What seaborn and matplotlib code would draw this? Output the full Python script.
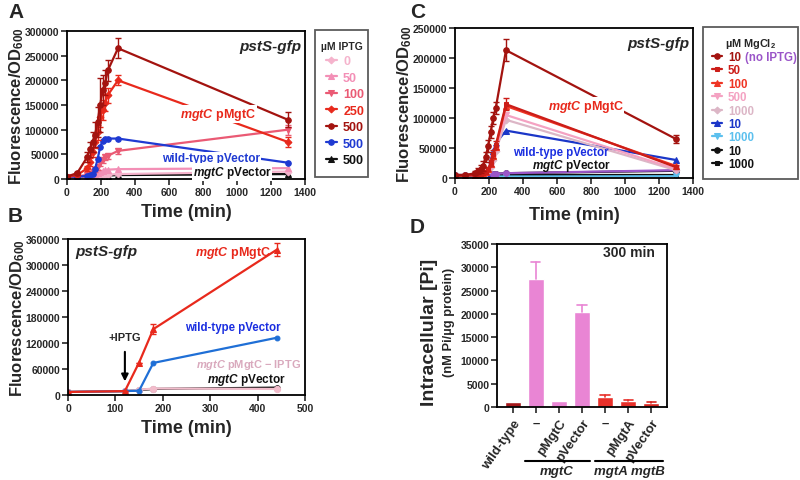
import numpy as np
import matplotlib
matplotlib.use("Agg")
import matplotlib.pyplot as plt
import seaborn as sns
from matplotlib.lines import Line2D

sns.set_style("ticks")
plt.rcParams['font.family'] = ['Liberation Sans', 'DejaVu Sans']
plt.rcParams['font.weight'] = 'bold'
plt.rcParams['mathtext.fontset'] = 'custom'
plt.rcParams['mathtext.rm'] = 'Liberation Sans:bold'
plt.rcParams['mathtext.it'] = 'Liberation Sans:italic:bold'
plt.rcParams['mathtext.bf'] = 'Liberation Sans:bold'

# ---- Panel A data (uM IPTG) ----
tA = [0, 60, 120, 135, 150, 165, 180, 195, 210, 225, 240, 300, 1300]
a_0 = [5000, 5000, 5000, 6000, 6000, 7000, 7000, 8000, 8000, 9000, 9000, 10000, 15000]
a_50 = [5000, 5000, 6000, 7000, 8000, 10000, 12000, 14000, 16000, 18000, 19000, 20000, 22000]
a_100 = [5000, 6000, 8000, 10000, 14000, 18000, 24000, 32000, 38000, 44000, 47000, 57000, 100000]
a_250 = [5000, 8000, 22000, 35000, 55000, 75000, 95000, 125000, 140000, 155000, 170000, 200000, 75000]
a_500 = [5000, 12000, 45000, 60000, 75000, 90000, 115000, 150000, 180000, 195000, 220000, 265000, 120000]
a_wt = [5000, 5000, 6000, 8000, 10000, 20000, 40000, 65000, 78000, 81000, 82000, 82000, 33000]
a_vec = [4000, 4000, 4000, 4000, 5000, 5000, 5000, 6000, 6000, 7000, 7000, 8000, 10000]
a_err_500 = [1000, 3000, 10000, 15000, 20000, 25000, 30000, 55000, 30000, 25000, 22000, 20000, 15000]
a_err_250 = [500, 2000, 5000, 8000, 10000, 12000, 15000, 20000, 20000, 18000, 15000, 10000, 10000]
a_err_100 = [500, 1000, 2000, 2000, 3000, 4000, 5000, 6000, 6000, 6000, 6000, 6000, 10000]
a_labels = ['0', '50', '100', '250', '500', '500', '500']

# ---- Panel B data ----
tB = [0, 120, 150, 180, 440]
b_pmgtc = [7000, 9000, 75000, 152000, 335000]
b_wt = [7000, 9000, 10000, 74000, 132000]
b_noiptg = [7000, 9000, 12000, 15000, 14000]
b_vec = [7000, 9000, 11000, 14000, 17000]
b_err_pmgtc = [0, 0, 0, 12000, 15000]

# ---- Panel C data (uM MgCl2) ----
tC = [0, 60, 120, 135, 150, 165, 180, 195, 210, 225, 240, 300, 1300]
c_10 = [5000, 5000, 8000, 12000, 15000, 20000, 35000, 53000, 77000, 100000, 117000, 213000, 65000]
c_50 = [4000, 4000, 5000, 6000, 7000, 8000, 10000, 15000, 25000, 40000, 55000, 123000, 18000]
c_100 = [4000, 4000, 5000, 6000, 7000, 8000, 10000, 15000, 23000, 37000, 52000, 120000, 20000]
c_500 = [4000, 4000, 5000, 6000, 7000, 8000, 9000, 13000, 20000, 33000, 48000, 105000, 15000]
c_1000 = [4000, 4000, 5000, 5000, 6000, 7000, 8000, 12000, 18000, 30000, 45000, 97000, 13000]
c_wt10 = [3000, 3000, 3000, 3000, 3000, 3000, 3500, 4000, 30000, 45000, 58000, 79000, 30000]
c_wt1000 = [2500, 2500, 2500, 2500, 2500, 2500, 2500, 2500, 2500, 2500, 2500, 2500, 3000]
c_vec10 = [5000, 5000, 5000, 5000, 5000, 5000, 6000, 6000, 6000, 6000, 7000, 8000, 12000]
c_vec1000 = [4000, 4000, 4000, 4000, 4000, 4000, 4000, 4000, 4000, 4500, 4500, 5000, 5000]
c_noiptg = [5000, 5000, 5000, 5000, 5000, 6000, 6000, 6000, 6000, 7000, 7000, 8000, 13000]
c_err_10 = [1000, 1000, 3000, 5000, 6000, 8000, 8000, 10000, 10000, 10000, 10000, 18000, 7000]
c_err_50 = [500, 500, 1000, 1000, 2000, 2000, 3000, 4000, 5000, 6000, 6000, 10000, 3000]
c_labels = ['10', '50', '100', '500', '1000', '10', '1000', '10', '1000']

# ---- Panel D data ----
d_ids = ['wt', 'c0', 'cC', 'cV', 'ab0', 'abA', 'abV']
d_ticks = ['wild-type', '\u2013', 'pMgtC', 'pVector', '\u2013', 'pMgtA', 'pVector']
d_vals = [1100, 27500, 1200, 20400, 2200, 1300, 800]
d_err = [0, 3600, 0, 1500, 450, 250, 200]

W, H = 800, 481
fig = plt.figure(figsize=(8, 4.81), dpi=100)


def px_axes(l, t, r, b):
    return fig.add_axes([l / W, 1 - b / H, (r - l) / W, (b - t) / H])


def style(ax):
    for s in ax.spines.values():
        s.set_linewidth(1.3)
        s.set_color('black')
    ax.tick_params(direction='out', length=4, width=1.2, labelsize=7.5, pad=1.5)
    for lab in ax.get_xticklabels() + ax.get_yticklabels():
        lab.set_fontweight('bold')


def series(ax, t, v, color, marker, label, err=None, ms=4):
    sns.lineplot(x=t, y=v, ax=ax, color=color, marker=marker, markersize=ms,
                 markeredgecolor=color, linewidth=1.6, label=label, errorbar=None)
    if err is not None:
        ax.errorbar(t, v, yerr=err, fmt='none', ecolor=color, elinewidth=1, capsize=2.5)


def label_text(ax, x, y, s, color, size=8.5):
    ax.text(x, y, s, color=color, fontsize=size, fontweight='bold', va='center',
            bbox=dict(facecolor='white', edgecolor='none', pad=0.5), zorder=5)


def box_legend(ax, handles, labels, title, l, t, w, **kw):
    leg = ax.legend(handles, labels, title=title, loc='upper left',
                    bbox_to_anchor=(l / W, 1 - t / H - 0.01, w / W, 0.01), mode='expand',
                    bbox_transform=fig.transFigure, fancybox=False, edgecolor='#333333',
                    handlelength=0.9, handletextpad=0.5, borderaxespad=0, **kw)
    leg.get_frame().set_linewidth(1.3)
    return leg


# ================= Panel A =================
axA = px_axes(67, 32, 305, 180)
colA = ['#f5b3cc', '#f38fb6', '#ea5a74', '#e8291c', '#a3130f', '#1f3ad2', '#111111']
series(axA, tA, a_vec, colA[6], '^', a_labels[6])
series(axA, tA, a_0, colA[0], 'D', a_labels[0], ms=3.5)
series(axA, tA, a_50, colA[1], '^', a_labels[1])
series(axA, tA, a_100, colA[2], 'v', a_labels[2], a_err_100)
series(axA, tA, a_wt, colA[5], 'o', a_labels[5])
series(axA, tA, a_250, colA[3], 'D', a_labels[3], a_err_250, ms=3.5)
series(axA, tA, a_500, colA[4], 'o', a_labels[4], a_err_500)
axA.set_xlim(0, 1400)
axA.set_ylim(0, 300000)
axA.set_xticks(range(0, 1401, 200))
axA.set_yticks(range(0, 300001, 50000))
axA.set_xlabel('Time (min)', fontsize=13, fontweight='bold')
axA.set_ylabel('Fluorescence/OD$_{600}$', fontsize=12, fontweight='bold')
axA.xaxis.set_label_coords(0.5, -0.165)
axA.yaxis.set_label_coords(-0.172, 0.5)
axA.text(0.985, 0.9, 'pstS-gfp', transform=axA.transAxes, ha='right', va='center',
         fontsize=11, fontstyle='italic', fontweight='bold')
label_text(axA, 665, 132000, r'$\mathit{mgtC}$ pMgtC', '#e8291c', 9)
label_text(axA, 560, 42000, 'wild-type pVector', '#1f3ad2')
label_text(axA, 740, 14000, r'$\mathit{mgtC}$ pVector', '#111111', 8.5)
style(axA)

h, l = axA.get_legend_handles_labels()
order = [1, 2, 3, 5, 6, 4, 0]
legA = box_legend(axA, [h[i] for i in order], [l[i] for i in order], '\u00b5M IPTG',
                  315, 31, 53, fontsize=9, title_fontsize=7.5, labelspacing=0.36,
                  borderpad=0.85)
for txt, c in zip(legA.get_texts(), colA):
    txt.set_color(c)
    txt.set_fontweight('bold')

# ================= Panel B =================
axB = px_axes(68, 240, 305, 396)
series(axB, tB, b_vec, '#111111', 'o', '_nolegend_', ms=4)
series(axB, tB, b_noiptg, '#f2bccb', 'o', '_nolegend_', ms=4.5)
series(axB, tB, b_wt, '#1f6fd6', 'o', '_nolegend_', ms=3.5)
series(axB, tB, b_pmgtc, '#e8291c', '^', '_nolegend_', b_err_pmgtc, ms=4)
axB.set_xlim(0, 500)
axB.set_ylim(0, 360000)
axB.set_xticks(range(0, 501, 100))
axB.set_yticks(range(0, 360001, 60000))
axB.set_xlabel('Time (min)', fontsize=13, fontweight='bold')
axB.set_ylabel('Fluorescence/OD$_{600}$', fontsize=12, fontweight='bold')
axB.xaxis.set_label_coords(0.5, -0.155)
axB.yaxis.set_label_coords(-0.175, 0.5)
axB.text(0.03, 0.92, 'pstS-gfp', transform=axB.transAxes, ha='left', va='center',
         fontsize=11, fontstyle='italic', fontweight='bold')
axB.text(268, 330000, r'$\mathit{mgtC}$ pMgtC', color='#e8291c', fontsize=9, va='center')
axB.text(247, 157000, 'wild-type pVector', color='#1a2ee0', fontsize=8.3, va='center')
axB.text(270, 71000, r'$\mathit{mgtC}$ pMgtC $-$ IPTG', color='#d9a9bd', fontsize=7.9, va='center')
axB.text(293, 37000, r'$\mathit{mgtC}$ pVector', color='#111111', fontsize=8.5, va='center')
axB.text(120, 134000, '+IPTG', fontsize=8, ha='center', va='center')
axB.annotate('', xy=(120, 25000), xytext=(120, 106000),
             arrowprops=dict(arrowstyle='-|>', color='black', lw=1.5, mutation_scale=10))
style(axB)

# ================= Panel C =================
axC = px_axes(455, 29, 693, 179)
colC = ['#a3130f', '#cc1d18', '#ef3524', '#f4a2c2', '#dcb6c6', '#1b36c8', '#5cc0ee', '#111111', '#111111']
series(axC, tC, c_vec1000, colC[8], 's', c_labels[8], ms=3.5)
series(axC, tC, c_vec10, colC[7], 'o', c_labels[7])
series(axC, tC, c_wt1000, colC[6], 'v', c_labels[6])
series(axC, tC, c_noiptg, '#9a55c8', 'o', '_nolegend_')
series(axC, tC, c_wt10, colC[5], '^', c_labels[5])
series(axC, tC, c_1000, colC[4], 'D', c_labels[4], ms=3.5)
series(axC, tC, c_500, colC[3], 'v', c_labels[3])
series(axC, tC, c_100, colC[2], '^', c_labels[2])
series(axC, tC, c_50, colC[1], 's', c_labels[1], c_err_50, ms=3.5)
series(axC, tC, c_10, colC[0], 'o', c_labels[0], c_err_10)
axC.set_xlim(0, 1400)
axC.set_ylim(0, 250000)
axC.set_xticks(range(0, 1401, 200))
axC.set_yticks(range(0, 250001, 50000))
axC.set_xlabel('Time (min)', fontsize=13, fontweight='bold')
axC.set_ylabel('Fluorescence/OD$_{600}$', fontsize=12, fontweight='bold')
axC.xaxis.set_label_coords(0.5, -0.19)
axC.yaxis.set_label_coords(-0.172, 0.5)
axC.text(0.985, 0.9, 'pstS-gfp', transform=axC.transAxes, ha='right', va='center',
         fontsize=11, fontstyle='italic', fontweight='bold')
label_text(axC, 545, 120000, r'$\mathit{mgtC}$ pMgtC', '#e8291c', 9)
axC.text(340, 44000, 'wild-type pVector', color='#1a2ee0', fontsize=8.3, va='center')
axC.text(455, 22000, r'$\mathit{mgtC}$ pVector', color='#111111', fontsize=8.5, va='center')
style(axC)

h, l = axC.get_legend_handles_labels()
legC = box_legend(axC, h[::-1], l[::-1], '\u00b5M MgCl$_2$', 703, 28, 95,
                  fontsize=8.3, title_fontsize=7.8, labelspacing=0.12, borderpad=0.75)
for txt, c in zip(legC.get_texts(), colC):
    txt.set_color(c)
    txt.set_fontweight('bold')

# ================= Panel D =================
axD = px_axes(497, 245, 667, 408)
colD = ['#a3171a', '#e985d4', '#e985d4', '#e985d4', '#e8302a', '#e8302a', '#d8251f']
sns.barplot(x=d_ids, y=d_vals, hue=d_ids, palette=dict(zip(d_ids, colD)), legend=False,
            width=0.7, saturation=1, ax=axD)
for i in range(len(d_vals)):
    if d_err[i] > 0:
        top = d_vals[i] + d_err[i]
        axD.plot([i, i], [d_vals[i], top], color=colD[i], lw=1.2)
        axD.plot([i - 0.2, i + 0.2], [top, top], color=colD[i], lw=1.2)
axD.set_ylim(0, 35000)
axD.set_yticks(range(0, 35001, 5000))
axD.set_xticks(range(len(d_ids)))
axD.set_xticklabels(d_ticks, rotation=55, ha='right', rotation_mode='anchor')
for lab in axD.get_xticklabels():
    if lab.get_text() == '\u2013':
        lab.set_rotation(0)
        lab.set_ha('center')
        lab.set_va('top')
axD.set_ylabel('')
axD.text(0.93, 0.95, '300 min', transform=axD.transAxes, ha='right', va='center', fontsize=10)
style(axD)
axD.tick_params(axis='x', labelsize=9.5, pad=3)
fig.text(430 / W, 1 - 332 / H, 'Intracellular [Pi]', rotation=90, fontsize=14,
         ha='center', va='center')
fig.text(449 / W, 1 - 322 / H, '(nM Pi/\u00b5g protein)', rotation=90, fontsize=9.3,
         ha='center', va='center')
fig.add_artist(Line2D([525 / W, 590 / W], [1 - 462 / H] * 2, transform=fig.transFigure,
                      color='black', lw=1.5))
fig.add_artist(Line2D([595 / W, 663 / W], [1 - 462 / H] * 2, transform=fig.transFigure,
                      color='black', lw=1.5))
fig.text(557 / W, 1 - 472 / H, 'mgtC', fontsize=9.5, fontstyle='italic', ha='center', va='center')
fig.text(629 / W, 1 - 472 / H, 'mgtA mgtB', fontsize=9.5, fontstyle='italic', ha='center', va='center')

# panel letters
for s, x, y in [('A', 8, 12), ('B', 8, 216), ('C', 410, 12), ('D', 410, 228)]:
    fig.text(x / W, 1 - y / H, s, fontsize=15, fontweight='bold', va='center', ha='left')

# "(no IPTG)" next to the first MgCl2 legend entry
fig.canvas.draw()
bb = legC.get_texts()[0].get_window_extent()
fig.text((bb.x1 + 4) / W, (bb.y0 + bb.y1) / 2 / H, '(no IPTG)', color='#9a55c8',
         fontsize=8.3, va='center')

fig.savefig('out.png', dpi=100)
